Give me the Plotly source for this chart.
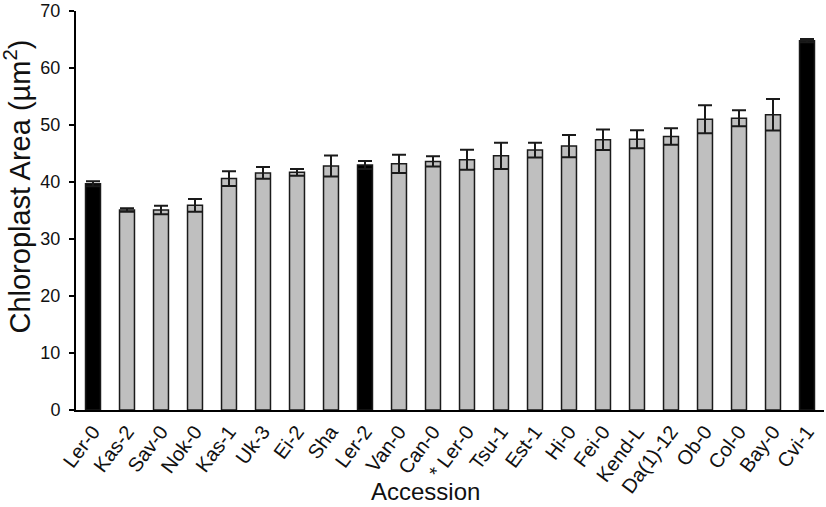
import plotly.graph_objects as go

accessions = ["Ler-0", "Kas-2", "Sav-0", "Nok-0", "Kas-1", "Uk-3", "Ei-2", "Sha", "Ler-2",
              "Van-0", "Can-0", "* Ler-0", "Tsu-1", "Est-1", "Hi-0", "Fei-0", "Kend-L",
              "Da(1)-12", "Ob-0", "Col-0", "Bay-0", "Cvi-1"]
area = [39.7, 35.1, 35.1, 35.9, 40.6, 41.6, 41.7, 42.8, 43.0, 43.2, 43.6, 43.9, 44.6,
        45.6, 46.3, 47.4, 47.5, 48.0, 51.0, 51.2, 51.8, 64.8]
err = [0.45, 0.3, 0.75, 1.1, 1.3, 1.05, 0.6, 1.85, 0.7, 1.6, 0.9, 1.75, 2.3,
       1.3, 1.95, 1.8, 1.6, 1.45, 2.45, 1.4, 2.75, 0.3]
black_bars = [0, 8, 21]  # Ler-0, Ler-2, Cvi-1 (parental lines)

colors = ["#000000" if i in black_bars else "#BFBFBF" for i in range(len(accessions))]
xpos = list(range(len(accessions)))

fig = go.Figure(go.Bar(
    x=xpos, y=area,
    marker=dict(color=colors, line=dict(color="#1a1a1a", width=1.5)),
    error_y=dict(type="data", array=err, visible=True, color="#1a1a1a", thickness=2, width=7),
    width=0.44,
))

fig.update_layout(
    width=826, height=507,
    margin=dict(l=76, r=2, t=11, b=97),
    plot_bgcolor="white", paper_bgcolor="white",
    font=dict(family="Liberation Sans, Arial", color="#111111"),
    showlegend=False,
    annotations=[
        dict(text="Accession", xref="paper", yref="paper", x=0.4666, y=-0.2055,
             xanchor="center", yanchor="middle", showarrow=False,
             font=dict(size=24, color="#111111")),
        dict(text="Chloroplast Area (µm<sup>2</sup>)", xref="paper", yref="paper",
             x=-0.0789, y=0.56, xanchor="center", yanchor="middle", textangle=-90,
             showarrow=False, font=dict(size=29, color="#111111")),
    ],
)
fig.update_xaxes(
    range=[-0.5, 21.5], tickmode="array", tickvals=xpos, ticktext=accessions,
    tickangle=-53, tickfont=dict(size=20), ticks="", automargin=False,
    showline=True, linecolor="black", linewidth=2, showgrid=False, zeroline=False,
)
fig.update_yaxes(
    range=[0, 70], dtick=10, tickfont=dict(size=18), automargin=False,
    ticks="outside", ticklen=5, tickwidth=2, tickcolor="black", ticklabelstandoff=5,
    showline=True, linecolor="black", linewidth=2, showgrid=False, zeroline=False,
)

fig.write_html("out.html", config={"displayModeBar": False},
               post_script="document.body.style.margin='0';")
